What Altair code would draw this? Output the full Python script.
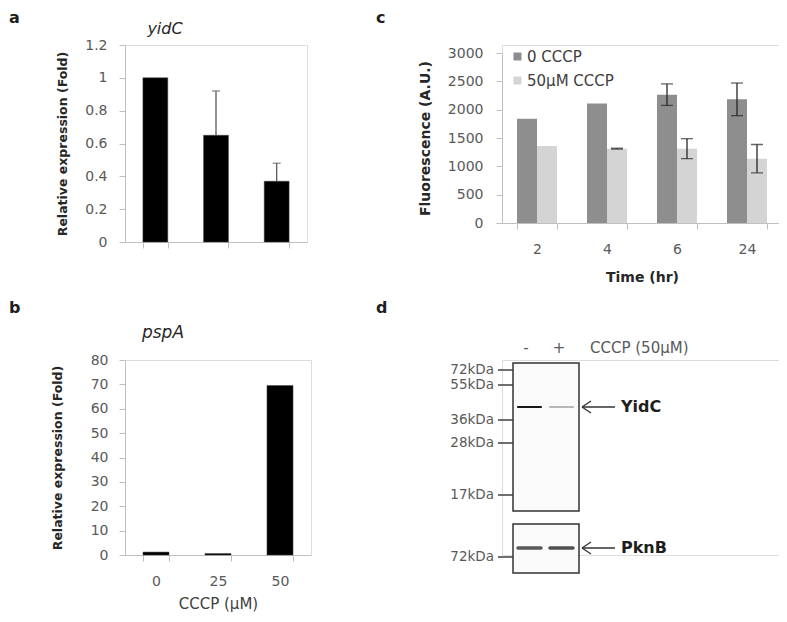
import altair as alt
import pandas as pd

# ---------------- data ----------------
# panel a: yidC relative expression vs CCCP (uM)
a_cond = ["0", "25", "50"]
a_val = [1.0, 0.65, 0.37]
a_err = [0.0, 0.27, 0.11]
# panel b: pspA relative expression vs CCCP (uM)
b_cond = ["0", "25", "50"]
b_val = [1.2, 0.6, 69.5]
# panel c: fluorescence over time
c_time = ["2", "4", "6", "24"]
c_series = ["0 CCCP", "50μM CCCP"]
c_ctrl = [1840, 2110, 2265, 2182]
c_ctrl_err = [0, 0, 190, 288]
c_cccp = [1360, 1312, 1312, 1135]
c_cccp_err = [0, 8, 176, 250]
# panel d: western blot schematic (migration in panel units)
d_lanes = ["-", "+"]
d_lane_pos = [27, 59]
d_lane_label_pos = [24, 57]
d_marker = ["72kDa", "55kDa", "36kDa", "28kDa", "17kDa"]
d_marker_mig = [10, 25, 60, 83, 135]
d_load_marker = ["72kDa"]
d_load_mig = [197]
d_proteins = ["YidC", "PknB"]
d_protein_mig = [47, 188]
d_yidc_int = [0.9, 0.22]
d_pknb_int = [0.62, 0.66]

FONT = "DejaVu Sans"
GRAY = "#595959"
AXC = "#bfbfbf"
DARK = "#8e8e8e"
LIGHT = "#d4d4d4"
INK = "#1e1e1e"


def letter(t, x, y):
    return alt.Chart(pd.DataFrame({"t": [t]})).mark_text(
        align="left", baseline="alphabetic", font=FONT, fontSize=16,
        fontWeight="bold", color=INK).encode(text="t:N", x=alt.value(x), y=alt.value(y))


def title_text(t, x, y, size=16):
    return alt.Chart(pd.DataFrame({"t": [t]})).mark_text(
        align="center", baseline="middle", font=FONT, fontSize=size,
        fontStyle="italic", color="#262626").encode(text="t:N", x=alt.value(x), y=alt.value(y))


def axis(**kw):
    base = dict(domainColor=AXC, tickColor=AXC, tickSize=6, labelFont=FONT,
                labelFontSize=14, labelColor=GRAY, grid=False,
                titleFont=FONT, titleColor="#262626")
    base.update(kw)
    return alt.Axis(**base)


# ---------------- panel a ----------------
dfa = pd.DataFrame({"cond": a_cond, "val": a_val, "err": a_err})
dfa["hi"] = dfa["val"] + dfa["err"]


def xa():
    return alt.X("cond:N", sort=a_cond,
                 scale=alt.Scale(paddingInner=0.59, paddingOuter=0.295),
                 axis=axis(labels=False, title=None, tickBand="extent"))


def ya(field):
    return alt.Y(field, scale=alt.Scale(domain=[0, 1.2], nice=False, zero=True),
                 axis=axis(values=[0, 0.2, 0.4, 0.6, 0.8, 1.0, 1.2], format="~g",
                           title="Relative expression (Fold)", titleFontSize=12.5,
                           titleFontWeight="bold", labelPadding=12, titlePadding=15))


base_a = alt.Chart(dfa)
bars_a = base_a.mark_bar(color="black", stroke="#404040", strokeWidth=0.5).encode(x=xa(), y=ya("val:Q"))
erra = base_a.transform_filter("datum.err > 0")
err_a = erra.mark_rule(color="#5a5a5a", strokeWidth=1.3).encode(x=xa(), y=ya("val:Q"), y2="hi:Q")
cap_a = erra.mark_tick(color="#5a5a5a", size=8, thickness=1.3).encode(x=xa(), y=ya("hi:Q"))
panel_a = alt.layer(
    bars_a, err_a, cap_a,
    letter("a", -116, -22),
    title_text("yidC", 40, -16),
).properties(width=182, height=197)

# ---------------- panel b ----------------
dfb = pd.DataFrame({"cond": b_cond, "val": b_val})
bars_b = alt.Chart(dfb).mark_bar(color="black", stroke="#404040", strokeWidth=0.5).encode(
    x=alt.X("cond:N", sort=b_cond,
            scale=alt.Scale(paddingInner=0.58, paddingOuter=0.29),
            axis=axis(labelAngle=0, tickBand="extent", title="CCCP (μM)",
                      titleFontSize=15, titleFontWeight="normal", titleColor="#404040",
                      labelPadding=13, titlePadding=8)),
    y=alt.Y("val:Q", scale=alt.Scale(domain=[0, 80], nice=False),
            axis=axis(values=list(range(0, 81, 10)), format="d",
                      title="Relative expression (Fold)", titleFontSize=12.5,
                      titleFontWeight="bold", labelPadding=11, titlePadding=26)),
)
panel_b = alt.layer(
    bars_b,
    letter("b", -116, -47),
    title_text("pspA", 38, -27, size=17),
).properties(width=186, height=195)

# ---------------- panel c ----------------
dfc = pd.DataFrame({
    "time": c_time * 2,
    "series": [c_series[0]] * 4 + [c_series[1]] * 4,
    "val": c_ctrl + c_cccp,
    "err": c_ctrl_err + c_cccp_err,
})
dfc["lo"] = dfc["val"] - dfc["err"]
dfc["hi"] = dfc["val"] + dfc["err"]


def xc():
    return alt.X("time:N", sort=c_time,
                 scale=alt.Scale(paddingInner=0.4286, paddingOuter=0.2143),
                 axis=axis(labelAngle=0, tickBand="extent", title="Time (hr)",
                           titleFontSize=14, titleFontWeight="bold",
                           labelPadding=13, titlePadding=14))


def yc(field):
    return alt.Y(field, scale=alt.Scale(domain=[0, 3000], range=[178, 8], nice=False),
                 axis=axis(values=list(range(0, 3001, 500)), format="d",
                           title="Fluorescence  (A.U.)", titleFontSize=14,
                           titleFontWeight="bold", labelPadding=13, titlePadding=15))


xoff = alt.XOffset("series:N", sort=c_series, scale=alt.Scale(paddingInner=0, paddingOuter=0))
base_c = alt.Chart(dfc)
bars_c = base_c.mark_bar().encode(
    x=xc(), xOffset=xoff, y=yc("val:Q"),
    color=alt.Color("series:N", sort=c_series,
                    scale=alt.Scale(domain=c_series, range=[DARK, LIGHT]),
                    legend=alt.Legend(orient="none", legendX=385, legendY=4, title=None,
                                      symbolType="square", symbolSize=64,
                                      symbolStrokeWidth=0, labelFont=FONT,
                                      labelFontSize=15, labelColor="#404040",
                                      padding=0, rowPadding=8, labelOffset=2)),
)
errc = base_c.transform_filter("datum.err > 0")
err_c = errc.mark_rule(color="#262626", strokeWidth=1.3).encode(
    x=xc(), xOffset=xoff, y=yc("lo:Q"), y2="hi:Q")
capc_hi = errc.mark_tick(color="#262626", size=12, thickness=1.3).encode(
    x=xc(), xOffset=xoff, y=yc("hi:Q"))
capc_lo = errc.mark_tick(color="#262626", size=12, thickness=1.3).encode(
    x=xc(), xOffset=xoff, y=yc("lo:Q"))
panel_c = alt.layer(
    bars_c, err_c, capc_hi, capc_lo,
    letter("c", -126, -22),
).properties(width=280, height=178)

# ---------------- panel d (blot schematic) ----------------
XS = alt.Scale(domain=[0, 280], range=[0, 280], nice=False, zero=False)
YS = alt.Scale(domain=[0, 195], range=[0, 195], nice=False, zero=False)


def dx(f):
    return alt.X(f, scale=XS, axis=None)


def dy(f):
    return alt.Y(f, scale=YS, axis=None)


box_df = pd.DataFrame({"panel": d_proteins, "x0": [11, 11], "x1": [77, 77],
                       "y0": [3, 164], "y1": [151, 213]})
boxes = alt.Chart(box_df).mark_rect(fill="#fafafa", stroke="#333333", strokeWidth=1.5).encode(
    x=dx("x0:Q"), x2="x1:Q", y=dy("y0:Q"), y2="y1:Q")

mk_df = pd.DataFrame({"lab": d_marker + d_load_marker, "mig": d_marker_mig + d_load_mig})
mk_df["tx0"] = -4
mk_df["tx1"] = 11
mk_df["lx"] = -8
mk_ticks = alt.Chart(mk_df).mark_rule(color="#404040", strokeWidth=1.5).encode(
    x=dx("tx0:Q"), x2="tx1:Q", y=dy("mig:Q"))
mk_labels = alt.Chart(mk_df).mark_text(align="right", baseline="middle", font=FONT,
                                       fontSize=13.5, color=GRAY).encode(
    x=dx("lx:Q"), y=dy("mig:Q"), text="lab:N")


def gray_hex(v):
    g = int(round(235 * (1 - v)))
    return "#{0:02x}{0:02x}{0:02x}".format(g)


band_rows = []
for prot, mig, ints in [(d_proteins[0], d_protein_mig[0], d_yidc_int),
                        (d_proteins[1], d_protein_mig[1], d_pknb_int)]:
    for lane, pos, v in zip(d_lanes, d_lane_pos, ints):
        band_rows.append({"protein": prot, "lane": lane, "b0": pos - 11, "b1": pos + 12,
                          "mig": mig, "col": gray_hex(v)})
band_df = pd.DataFrame(band_rows)
bands_yidc = alt.Chart(band_df).transform_filter("datum.protein == 'YidC'").mark_rule(
    strokeWidth=2.2, strokeCap="round").encode(
    x=dx("b0:Q"), x2="b1:Q", y=dy("mig:Q"), color=alt.Color("col:N", scale=None))
bands_pknb = alt.Chart(band_df).transform_filter("datum.protein == 'PknB'").mark_rule(
    strokeWidth=3.5, strokeCap="round").encode(
    x=dx("b0:Q"), x2="b1:Q", y=dy("mig:Q"), color=alt.Color("col:N", scale=None))

arr_df = pd.DataFrame({"protein": d_proteins, "mig": d_protein_mig})
arr_df["a0"] = 80
arr_df["a1"] = 113
arr_df["h"] = 89
arr_df["up"] = arr_df["mig"] - 6
arr_df["dn"] = arr_df["mig"] + 6
arr_df["tx"] = 119
arr_base = alt.Chart(arr_df)
shaft = arr_base.mark_rule(color="#333333", strokeWidth=1.3).encode(
    x=dx("a0:Q"), x2="a1:Q", y=dy("mig:Q"))
head1 = arr_base.mark_rule(color="#333333", strokeWidth=1.3).encode(
    x=dx("a0:Q"), x2="h:Q", y=dy("mig:Q"), y2="up:Q")
head2 = arr_base.mark_rule(color="#333333", strokeWidth=1.3).encode(
    x=dx("a0:Q"), x2="h:Q", y=dy("mig:Q"), y2="dn:Q")
arr_text = arr_base.mark_text(align="left", baseline="middle", font=FONT, fontSize=16,
                              fontWeight="bold", color=INK).encode(
    x=dx("tx:Q"), y=dy("mig:Q"), text="protein:N")

lane_df = pd.DataFrame({"lane": d_lanes + ["CCCP (50μM)"],
                        "lx": d_lane_label_pos + [88], "ly": [-12, -12, -12],
                        "al": ["c", "c", "l"]})
lane_c = alt.Chart(lane_df).transform_filter("datum.al == 'c'").mark_text(
    align="center", baseline="middle", font=FONT, fontSize=15, color=GRAY).encode(
    x=dx("lx:Q"), y=dy("ly:Q"), text="lane:N")
lane_l = alt.Chart(lane_df).transform_filter("datum.al == 'l'").mark_text(
    align="left", baseline="middle", font=FONT, fontSize=15, color=GRAY).encode(
    x=dx("lx:Q"), y=dy("ly:Q"), text="lane:N")

panel_d = alt.layer(
    boxes, mk_ticks, mk_labels, bands_yidc, bands_pknb,
    shaft, head1, head2, arr_text, lane_c, lane_l,
    letter("d", -126, -47),
).properties(width=280, height=195)

chart = alt.concat(
    panel_a, panel_c, panel_b, panel_d,
    columns=2,
    spacing=alt.RowColnumber(row=118, column=191),
    bounds="flush",
    align="each",
).properties(
    autosize=alt.AutoSizeParams(type="none"),
    padding={"left": 117, "top": 37, "right": 654, "bottom": 569},
).configure_view(stroke=None).configure(background="white")

chart.save("out.html", embed_options={"renderer": "svg", "actions": False})
